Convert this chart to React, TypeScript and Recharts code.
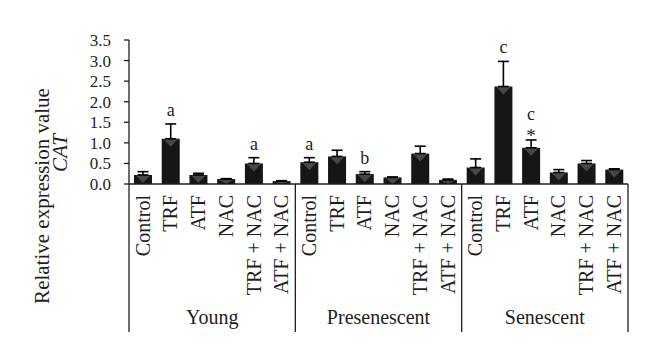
import { BarChart, Bar, XAxis, YAxis, ErrorBar, LabelList } from 'recharts';

const GROUPS = ['Young', 'Presenescent', 'Senescent'];
const TREATMENTS = ['Control', 'TRF', 'ATF', 'NAC', 'TRF + NAC', 'ATF + NAC'];

const YOUNG = [0.22, 1.1, 0.22, 0.12, 0.5, 0.07];
const PRESENESCENT = [0.53, 0.67, 0.24, 0.16, 0.74, 0.1];
const SENESCENT = [0.4, 2.37, 0.88, 0.28, 0.5, 0.35];

const YOUNG_ERR = [0.08, 0.36, 0.04, 0.01, 0.14, 0.01];
const PRESENESCENT_ERR = [0.11, 0.15, 0.06, 0.01, 0.18, 0.02];
const SENESCENT_ERR = [0.21, 0.61, 0.19, 0.07, 0.07, 0.02];

const YOUNG_SIG = ['', 'a', '', '', 'a', ''];
const PRESENESCENT_SIG = ['a', '', 'b', '', '', ''];
const SENESCENT_SIG = ['', 'c', 'c', '', '', ''];
const SENESCENT_STAR = [false, false, true, false, false, false];

const Y_TICKS = [0, 0.5, 1, 1.5, 2, 2.5, 3, 3.5];

const VALUES = [YOUNG, PRESENESCENT, SENESCENT];
const ERRS = [YOUNG_ERR, PRESENESCENT_ERR, SENESCENT_ERR];
const SIGS = [YOUNG_SIG, PRESENESCENT_SIG, SENESCENT_SIG];
const STARS = [[], [], SENESCENT_STAR];

const data = GROUPS.flatMap((group, gi) =>
  TREATMENTS.map((treatment, ti) => ({
    id: `${group}-${treatment}`,
    group,
    treatment,
    value: VALUES[gi][ti],
    errUp: ERRS[gi][ti],
    err: [0, ERRS[gi][ti]],
    sig: SIGS[gi][ti],
    star: !!STARS[gi][ti],
  }))
);

const W = 660;
const H = 364;
const LEFT = 129;
const RIGHT = 32;
const TOP = 40;
const XAXIS_H = 180;
const BAND = (W - LEFT - RIGHT) / data.length;
const FONT = '"Liberation Serif", "Times New Roman", serif';
const INK = '#1f1d1e';

const BarShape = (props: any) => {
  const { x, y, width, height } = props;
  const d = Math.min(8, height);
  return (
    <g>
      <rect x={x} y={y} width={width} height={height} fill="#161616" />
      {height > 2 && (
        <path d={`M${x + 2},${y + 0.5} L${x + width - 2},${y + 0.5} L${x + width / 2},${y + d} Z`} fill="#474747" />
      )}
    </g>
  );
};

const CategoryTick = (props: any) => {
  const { x, y, index } = props;
  const d = data[index];
  return (
    <g>
      <text
        x={x}
        y={y + 11}
        transform={`rotate(-90, ${x}, ${y + 11})`}
        textAnchor="end"
        dy="0.34em"
        fontSize={20}
        fontFamily={FONT}
        fill={INK}
      >
        {d.treatment}
      </text>
      {index % 6 === 0 && <line x1={x - BAND / 2} x2={x - BAND / 2} y1={y} y2={y + 148} stroke={INK} strokeWidth={1.3} />}
      {index === data.length - 1 && (
        <line x1={x + BAND / 2} x2={x + BAND / 2} y1={y} y2={y + 148} stroke={INK} strokeWidth={1.3} />
      )}
      {index % 6 === 2 && (
        <text x={x + BAND / 2} y={y + 140} textAnchor="middle" fontSize={20} fontFamily={FONT} fill={INK}>
          {d.group}
        </text>
      )}
    </g>
  );
};

const SigLabel = (props: any) => {
  const { x, y, width, height, index } = props;
  const d = data[index];
  if (!d || !d.sig) return null;
  const perUnit = height / d.value;
  const errTop = y - d.errUp * perUnit;
  const cx = x + width / 2;
  return (
    <g fontFamily={FONT} fill={INK} textAnchor="middle">
      {d.star && (
        <text x={cx} y={errTop + 2} fontSize={19}>
          *
        </text>
      )}
      <text x={cx} y={d.star ? errTop - 20 : errTop - 8} fontSize={18}>
        {d.sig}
      </text>
    </g>
  );
};

const YLabel = () => (
  <g fontFamily={FONT} fill={INK} fontSize={21} textAnchor="middle">
    <text x={49} y={196} transform="rotate(-90, 49, 196)">
      Relative expression value
    </text>
    <text x={67} y={153} transform="rotate(-90, 67, 153)" fontStyle="italic">
      CAT
    </text>
  </g>
);

export default function App() {
  return (
    <div style={{ position: 'absolute', left: 0, top: 0, width: W, height: H, background: '#fff' }}>
      <BarChart width={W} height={H} data={data} margin={{ top: TOP, right: RIGHT, left: 0, bottom: 0 }} barSize={18}>
        <XAxis
          dataKey="id"
          height={XAXIS_H}
          interval={0}
          tickLine={false}
          tickSize={0}
          tickMargin={0}
          axisLine={{ stroke: INK, strokeWidth: 1.3 }}
          tick={<CategoryTick />}
        />
        <YAxis
          width={LEFT}
          domain={[0, 3.5]}
          ticks={Y_TICKS}
          interval={0}
          tickFormatter={(v: number) => v.toFixed(1)}
          tickSize={5}
          tickMargin={13}
          axisLine={{ stroke: INK, strokeWidth: 1.3 }}
          tickLine={{ stroke: INK, strokeWidth: 1.3 }}
          tick={{ fontSize: 17, fontFamily: FONT, fill: INK }}
          label={{ content: () => <YLabel /> }}
        />
        <Bar dataKey="value" isAnimationActive={false} shape={<BarShape />}>
          <ErrorBar dataKey="err" width={5.5} stroke="#000" strokeWidth={1.6} direction="y" isAnimationActive={false} />
          <LabelList dataKey="sig" content={<SigLabel />} />
        </Bar>
      </BarChart>
    </div>
  );
}
